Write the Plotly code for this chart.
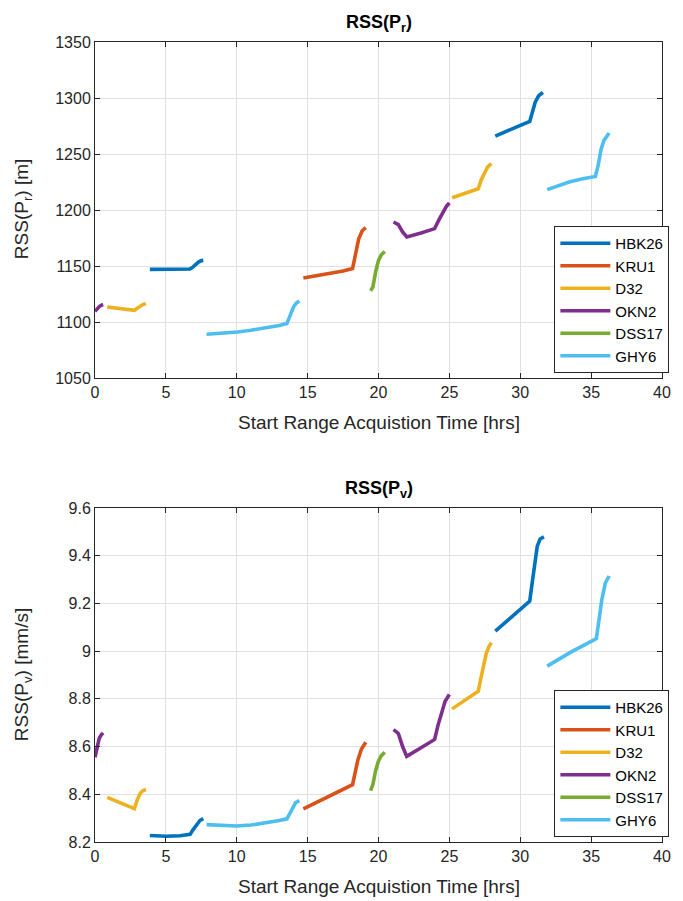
import plotly.graph_objects as go

stations = ["HBK26", "KRU1", "D32", "OKN2", "DSS17", "GHY6"]
colors = ["#0072BD", "#D95319", "#EDB120", "#7E2F8E", "#77AC30", "#4DBEEE"]

# ---- RSS(Pr) [m] ----
HBK26_t_r = [3.87, 5.0, 6.0, 6.71, 6.9, 7.1, 7.3, 7.5, 7.64, None, 28.24, 29.0, 29.8, 30.67, 30.85, 31.05, 31.3, 31.6]
HBK26_pr = [1147, 1147, 1147, 1147.3, 1149, 1151.5, 1153.5, 1154.8, 1155, None, 1266, 1270.5, 1274.5, 1279, 1288, 1296, 1302, 1305]
KRU1_t_r = [14.70, 15.5, 16.5, 17.5, 18.17, 18.4, 18.6, 18.85, 19.1]
KRU1_pr = [1139.3, 1141, 1143, 1145.5, 1147.7, 1160, 1174, 1181.5, 1184.3]
D32_t_r = [0.86, 1.8, 2.78, 3.0, 3.2, 3.4, 3.59, None, 25.19, 26.1, 27.04, 27.25, 27.45, 27.7, 27.96]
D32_pr = [1113.4, 1112, 1110.4, 1112.5, 1114.5, 1115.8, 1116.4, None, 1211, 1215, 1219, 1227, 1233, 1238.5, 1241.4]
OKN2_t_r = [0.0, 0.15, 0.3, 0.45, 0.58, None, 21.06, 21.4, 21.7, 22.0, 23.0, 23.96, 24.3, 24.6, 24.8, 25.0]
OKN2_pr = [1109.5, 1112, 1113.8, 1115, 1115.5, None, 1189.3, 1187, 1180.5, 1176, 1179.5, 1183.4, 1192, 1199.5, 1203.5, 1206.3]
DSS17_t_r = [19.44, 19.6, 19.8, 20.0, 20.2, 20.44]
DSS17_pr = [1128, 1131, 1145, 1155, 1160, 1163]
GHY6_t_r = [7.87, 9.0, 10.07, 11.0, 12.0, 13.0, 13.54, 13.8, 14.0, 14.2, 14.42, None, 31.9, 32.7, 33.45, 34.4, 35.3, 35.5, 35.7, 35.9, 36.27]
GHY6_pr = [1089, 1090, 1091.1, 1092.6, 1094.4, 1096.8, 1098.6, 1106, 1113.4, 1117, 1118.8, None, 1218.2, 1221.5, 1225, 1228, 1230, 1240, 1254, 1262, 1268.8]

# ---- RSS(Pv) [mm/s] ----
HBK26_t_v = [3.87, 5.0, 6.0, 6.71, 6.9, 7.17, 7.4, 7.64, None, 28.24, 29.5, 30.67, 30.85, 31.0, 31.2, 31.4, 31.67]
HBK26_pv = [8.227, 8.224, 8.226, 8.232, 8.25, 8.274, 8.29, 8.298, None, 9.084, 9.15, 9.21, 9.29, 9.36, 9.44, 9.47, 9.479]
KRU1_t_v = [14.7, 16.4, 18.17, 18.35, 18.55, 18.8, 19.1]
KRU1_pv = [8.339, 8.388, 8.44, 8.49, 8.545, 8.59, 8.618]
D32_t_v = [0.86, 1.8, 2.78, 3.0, 3.2, 3.4, 3.59, None, 25.19, 26.1, 27.04, 27.2, 27.4, 27.6, 27.8, 27.96]
D32_pv = [8.387, 8.363, 8.34, 8.38, 8.405, 8.416, 8.42, None, 8.758, 8.795, 8.832, 8.88, 8.94, 8.99, 9.02, 9.036]
OKN2_t_v = [0.0, 0.15, 0.3, 0.45, 0.58, None, 21.06, 21.4, 21.7, 21.99, 23.0, 23.96, 24.2, 24.45, 24.7, 25.0]
OKN2_pv = [8.555, 8.6, 8.635, 8.65, 8.657, None, 8.671, 8.655, 8.6, 8.559, 8.595, 8.63, 8.69, 8.745, 8.79, 8.818]
DSS17_t_v = [19.44, 19.6, 19.8, 20.0, 20.2, 20.44]
DSS17_pv = [8.415, 8.44, 8.5, 8.54, 8.562, 8.576]
GHY6_t_v = [7.87, 9.0, 10.0, 11.0, 12.0, 13.0, 13.54, 13.75, 13.95, 14.15, 14.42, None, 31.9, 33.6, 35.37, 35.55, 35.76, 36.0, 36.27]
GHY6_pv = [8.273, 8.268, 8.267, 8.271, 8.279, 8.29, 8.297, 8.32, 8.348, 8.365, 8.373, None, 8.937, 8.997, 9.053, 9.13, 9.217, 9.285, 9.315]

top_t = [HBK26_t_r, KRU1_t_r, D32_t_r, OKN2_t_r, DSS17_t_r, GHY6_t_r]
top_y = [HBK26_pr, KRU1_pr, D32_pr, OKN2_pr, DSS17_pr, GHY6_pr]
bot_t = [HBK26_t_v, KRU1_t_v, D32_t_v, OKN2_t_v, DSS17_t_v, GHY6_t_v]
bot_y = [HBK26_pv, KRU1_pv, D32_pv, OKN2_pv, DSS17_pv, GHY6_pv]

x_title = "Start Range Acquistion Time [hrs]"
top_title = "RSS(P<sub>r</sub>)"
bot_title = "RSS(P<sub>v</sub>)"
top_ylabel = "RSS(P<sub>r</sub>) [m]"
bot_ylabel = "RSS(P<sub>v</sub>) [mm/s]"

FONT = "Liberation Sans, Arial, Helvetica, sans-serif"
AX = "#262626"
GRID = "#e0e0e0"
LW = 3.6

fig = go.Figure()
for name, c, t, y in zip(stations, colors, top_t, top_y):
    fig.add_trace(go.Scatter(x=t, y=y, mode="lines", name=name, line=dict(color=c, width=LW),
                             xaxis="x", yaxis="y", legend="legend"))
for name, c, t, y in zip(stations, colors, bot_t, bot_y):
    fig.add_trace(go.Scatter(x=t, y=y, mode="lines", name=name, line=dict(color=c, width=LW),
                             xaxis="x2", yaxis="y2", legend="legend2"))

W, H = 683, 901
ml, mr, mt, mb = 95, 12, 42, 59
ph = H - mt - mb  # 800
top_dom = [(842 - 378) / ph, 1.0]
bot_dom = [0.0, (842 - 508) / ph]

axis_common = dict(showline=True, linecolor=AX, linewidth=1, mirror="ticks", ticks="inside",
                   ticklen=5, tickcolor=AX, showgrid=True, gridcolor=GRID, gridwidth=1,
                   zeroline=False, tickfont=dict(family=FONT, size=16, color=AX))

leg_common = dict(x=1.013, xanchor="right", yanchor="bottom", bgcolor="white",
                  bordercolor=AX, borderwidth=1, itemwidth=50,
                  font=dict(family=FONT, size=15, color="black"), tracegroupgap=0)

fig.update_layout(
    width=W, height=H, margin=dict(l=ml, r=mr, t=mt, b=mb),
    paper_bgcolor="white", plot_bgcolor="white",
    font=dict(family=FONT, color=AX),
    xaxis=dict(domain=[0, 1], anchor="y", range=[0, 40], dtick=5, **axis_common),
    yaxis=dict(domain=top_dom, anchor="x", range=[1050, 1350], dtick=50, **axis_common),
    xaxis2=dict(domain=[0, 1], anchor="y2", range=[0, 40], dtick=5, **axis_common),
    yaxis2=dict(domain=bot_dom, anchor="x2", range=[8.2, 9.6], dtick=0.2, **axis_common),
    legend=dict(y=(842 - 373) / ph, **leg_common),
    legend2=dict(y=(842 - 837) / ph, **leg_common),
)

def px_y(py):
    return (842 - py) / ph

def px_x(px):
    return (px - ml) / (W - ml - mr)

ann = [
    dict(text="<b>" + top_title + "</b>", x=0.5, y=px_y(23), font=dict(size=18, color="black")),
    dict(text="<b>" + bot_title + "</b>", x=0.5, y=px_y(489), font=dict(size=18, color="black")),
    dict(text=x_title, x=0.5, y=px_y(422), font=dict(size=19, color=AX)),
    dict(text=x_title, x=0.5, y=px_y(886), font=dict(size=19, color=AX)),
    dict(text=top_ylabel, x=px_x(22), y=px_y(209), textangle=-90, font=dict(size=19, color=AX)),
    dict(text=bot_ylabel, x=px_x(22), y=px_y(675), textangle=-90, font=dict(size=19, color=AX)),
]
for a in ann:
    a.update(xref="paper", yref="paper", showarrow=False, xanchor="center", yanchor="middle")
    a["font"]["family"] = FONT
fig.update_layout(annotations=ann)

fig.write_html("out.html")
